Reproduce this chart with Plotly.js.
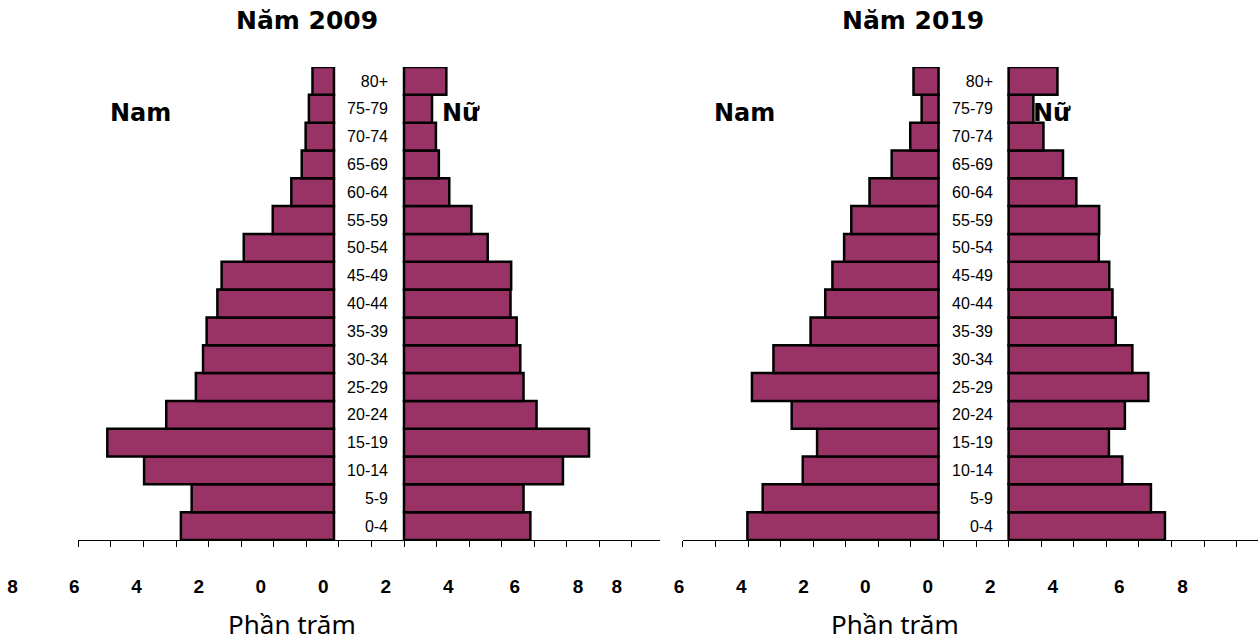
<!DOCTYPE html>
<html>
<head>
<meta charset="utf-8">
<script src="https://cdn.plot.ly/plotly-3.0.1.min.js"></script>
<style>
  html, body { margin: 0; padding: 0; background: #ffffff; }
  #chart { width: 1258px; height: 643px; }
</style>
</head>
<body>
<div id="chart"></div>
<script>
// ---------------- DATA ----------------
const AGES = ["0-4","5-9","10-14","15-19","20-24","25-29","30-34","35-39","40-44","45-49","50-54","55-59","60-64","65-69","70-74","75-79","80+"];

const MALE_2009   = [4.70, 4.37, 5.83, 6.96, 5.15, 4.24, 4.02, 3.91, 3.58, 3.45, 2.77, 1.88, 1.31, 0.99, 0.87, 0.77, 0.66];
const FEMALE_2009 = [3.88, 3.67, 4.88, 5.68, 4.07, 3.67, 3.57, 3.46, 3.27, 3.29, 2.57, 2.07, 1.39, 1.07, 0.98, 0.86, 1.30];

const MALE_2019   = [5.87, 5.40, 4.17, 3.73, 4.51, 5.73, 5.07, 3.93, 3.48, 3.26, 2.90, 2.68, 2.12, 1.44, 0.87, 0.52, 0.77];
const FEMALE_2019 = [4.80, 4.37, 3.49, 3.08, 3.57, 4.29, 3.80, 3.29, 3.19, 3.09, 2.77, 2.78, 2.08, 1.67, 1.07, 0.76, 1.50];

const TICK_TEXT_2009 = ["8","6","4","2","0","0","2","4","6","8","8"];
const TICK_TEXT_2019 = ["6","4","2","0","0","2","4","6","8"];

const TITLE_2009 = "Năm 2009";
const TITLE_2019 = "Năm 2019";
const LABEL_MALE = "Nam";
const LABEL_FEMALE = "Nữ";
const AXIS_TITLE = "Phần trăm";

// ---------------- LAYOUT CONSTANTS ----------------
const W = 1258, H = 643;
const PX_PER_UNIT = 32.57;
const MALE_ZERO = 7.85;     // axis unit where male bars end
const FEMALE_ZERO = 10;     // axis unit where female bars start
const LEFT_AXIS_START = 78.3, RIGHT_AXIS_START = 682.9, SPLIT = 660;
const PLOT_TOP = 67, PLOT_BOTTOM = 540;
const LABEL_POS_2009 = [-2.02, -0.12, 1.79, 3.70, 5.60, 7.52, 9.44, 11.36, 13.40, 15.34, 16.53];
const LABEL_POS_2019 = [-0.12, 1.79, 3.70, 5.60, 7.52, 9.44, 11.36, 13.40, 15.34];

const FILL = "#993366";
const NARROW = "'Liberation Sans Narrow', 'Arial Narrow', 'Liberation Sans', Arial, sans-serif";
const BOLDFONT = "'DejaVu Sans', sans-serif";
const TITLEFONT = "'Noto Sans', 'Open Sans', sans-serif";

function maleTrace(vals, xa, ya) {
  return {
    type: "bar", orientation: "h", y: AGES, x: vals,
    base: vals.map(v => MALE_ZERO - v),
    xaxis: xa, yaxis: ya, width: 1,
    marker: { color: FILL, line: { color: "#000000", width: 2.5 } },
    hoverinfo: "y+x"
  };
}
function femaleTrace(vals, xa, ya) {
  return {
    type: "bar", orientation: "h", y: AGES, x: vals,
    base: vals.map(() => FEMALE_ZERO),
    xaxis: xa, yaxis: ya, width: 1,
    marker: { color: FILL, line: { color: "#000000", width: 2.5 } },
    hoverinfo: "y+x"
  };
}
// empty carrier traces so the free label axes get drawn
function carrier(xa, ya) {
  return { type: "scatter", mode: "markers", x: [], y: [], xaxis: xa, yaxis: ya, hoverinfo: "skip", showlegend: false };
}

const data = [
  maleTrace(MALE_2009, "x", "y"),
  femaleTrace(FEMALE_2009, "x", "y"),
  maleTrace(MALE_2019, "x2", "y2"),
  femaleTrace(FEMALE_2019, "x2", "y2"),
  carrier("x3", "y"),
  carrier("x4", "y2")
];

const yDomain = [1 - PLOT_BOTTOM / H, 1 - PLOT_TOP / H];

function tickAxis(start, end) {
  return {
    domain: [start / W, end / W],
    range: [0, (end - start) / PX_PER_UNIT],
    showline: true, linecolor: "#000000", linewidth: 1,
    ticks: "outside", ticklen: 6, tickcolor: "#000000", tickwidth: 1,
    tick0: 0, dtick: 1,
    showticklabels: false, showgrid: false, zeroline: false,
    fixedrange: true, automargin: false
  };
}
function labelAxis(domStart, domEnd, axisStart, vals, texts) {
  return {
    domain: [domStart / W, domEnd / W],
    range: [(domStart - axisStart) / PX_PER_UNIT, (domEnd - axisStart) / PX_PER_UNIT],
    anchor: "free", position: 1 - 573 / H,
    showline: false, ticks: "", showgrid: false, zeroline: false,
    tickmode: "array", tickvals: vals, ticktext: texts.map(t => "<b>" + t + "</b>"),
    tickfont: { family: NARROW, size: 19, color: "#000000" },
    fixedrange: true, automargin: false
  };
}
function ageAxis(px) {
  return {
    domain: yDomain, anchor: "free", position: px / W,
    type: "category", categoryarray: AGES, categoryorder: "array",
    range: [-0.5, AGES.length - 0.5],
    showline: false, ticks: "", showgrid: false, zeroline: false,
    tickfont: { family: NARROW, size: 16, color: "#000000" },
    fixedrange: true, automargin: false
  };
}
function note(text, px, py, font) {
  return { text: text, xref: "paper", yref: "paper", x: px / W, y: 1 - py / H,
           xanchor: "center", yanchor: "middle", showarrow: false, font: font };
}
const bigBold = { family: BOLDFONT, size: 25, color: "#000000" };
const sideBold = { family: BOLDFONT, size: 24, color: "#000000" };
const axisTitleFont = { family: TITLEFONT, size: 26, color: "#000000" };

const layout = {
  width: W, height: H,
  margin: { l: 0, r: 0, t: 0, b: 0, pad: 0 },
  paper_bgcolor: "#ffffff", plot_bgcolor: "rgba(0,0,0,0)",
  showlegend: false, barmode: "overlay", bargap: 0,
  xaxis: Object.assign(tickAxis(LEFT_AXIS_START, SPLIT), { anchor: "y" }),
  xaxis2: Object.assign(tickAxis(RIGHT_AXIS_START, W), { anchor: "y2" }),
  xaxis3: labelAxis(0, SPLIT, LEFT_AXIS_START, LABEL_POS_2009, TICK_TEXT_2009),
  xaxis4: labelAxis(SPLIT, W, RIGHT_AXIS_START, LABEL_POS_2019, TICK_TEXT_2019),
  yaxis: ageAxis(388),
  yaxis2: ageAxis(993),
  annotations: [
    note("<b>" + TITLE_2009 + "</b>", 307, 21, bigBold),
    note("<b>" + TITLE_2019 + "</b>", 912.5, 21, bigBold),
    note("<b>" + LABEL_MALE + "</b>", 140, 113, sideBold),
    note("<b>" + LABEL_FEMALE + "</b>", 461, 113, sideBold),
    note("<b>" + LABEL_MALE + "</b>", 744, 113, sideBold),
    note("<b>" + LABEL_FEMALE + "</b>", 1052, 113, sideBold),
    note(AXIS_TITLE, 292, 624, axisTitleFont),
    note(AXIS_TITLE, 895, 624, axisTitleFont)
  ]
};

Plotly.newPlot("chart", data, layout, { displayModeBar: false, staticPlot: true });
</script>
</body>
</html>
